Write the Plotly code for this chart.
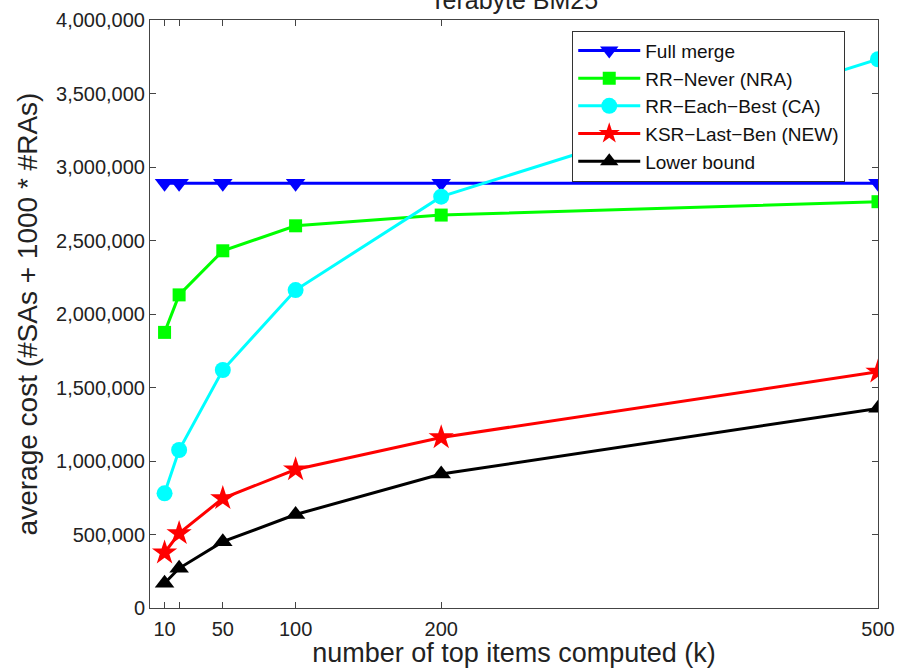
import plotly.graph_objects as go

k = [10, 20, 50, 100, 200, 500]
full_merge = [2890000, 2890000, 2890000, 2890000, 2890000, 2890000]
rr_never = [1875000, 2130000, 2430000, 2600000, 2673000, 2764000]
rr_each_best = [780000, 1075000, 1619000, 2163000, 2798000, 3733000]
ksr_last_ben = [376000, 508000, 746000, 942000, 1160000, 1607000]
lower_bound = [168000, 270000, 451000, 636000, 911000, 1358000]

x_tickvals = [10, 20, 50, 100, 200, 500]
x_ticktext = ["10", "", "50", "100", "200", "500"]
y_tickvals = [0, 500000, 1000000, 1500000, 2000000, 2500000, 3000000, 3500000, 4000000]

series = [
    ("Full merge", full_merge, "#0000FF", "triangle-down", 17),
    ("RR\u2212Never (NRA)", rr_never, "#00FF00", "square", 13),
    ("RR\u2212Each\u2212Best (CA)", rr_each_best, "#00FFFF", "circle", 16),
    ("KSR\u2212Last\u2212Ben (NEW)", ksr_last_ben, "#FF0000", "star", 19),
    ("Lower bound", lower_bound, "#000000", "triangle-up", 17),
]

fig = go.Figure()
for name, vals, color, sym, size in series:
    fig.add_trace(go.Scatter(
        x=k, y=vals, name=name, mode="lines+markers",
        line=dict(color=color, width=3),
        marker=dict(symbol=sym, size=size, color=color, line=dict(width=0)),
    ))

FONT = "Liberation Sans, Arial, Helvetica, sans-serif"
fig.update_layout(
    width=897, height=668,
    margin=dict(l=150, r=19, t=20, b=60, autoexpand=False),
    paper_bgcolor="white", plot_bgcolor="white",
    font=dict(family=FONT, size=20, color="#222222"),
    showlegend=True,
    legend=dict(
        x=0.58, y=0.982, xanchor="left", yanchor="top",
        bgcolor="white", bordercolor="#333333", borderwidth=1,
        font=dict(size=19, family=FONT, color="#111111"),
        tracegroupgap=0, itemwidth=62,
    ),
    annotations=[dict(
        text="Terabyte BM25", xref="paper", yref="paper", x=0.5, y=1,
        xanchor="center", yanchor="bottom", yshift=4, showarrow=False,
        font=dict(size=25, family=FONT, color="#222222"),
    )],
)
fig.update_xaxes(
    range=[0, 500], tickvals=x_tickvals, ticktext=x_ticktext,
    ticks="inside", ticklen=6, tickcolor="#444444",
    showline=True, linecolor="#444444", linewidth=1, mirror="ticks",
    showgrid=False, zeroline=False, automargin=False,
    tickfont=dict(size=20), ticklabelstandoff=3,
    title=dict(text="number of top items computed (k)", font=dict(size=27), standoff=6),
)
fig.update_yaxes(
    range=[0, 4000000], tickvals=y_tickvals, tickformat=",d",
    ticks="inside", ticklen=6, tickcolor="#444444",
    showline=True, linecolor="#444444", linewidth=1, mirror="ticks",
    showgrid=False, zeroline=False, automargin=False,
    tickfont=dict(size=20),
    title=dict(text="average cost (#SAs + 1000 * #RAs)", font=dict(size=28), standoff=10),
)

fig.write_html("out.html")
